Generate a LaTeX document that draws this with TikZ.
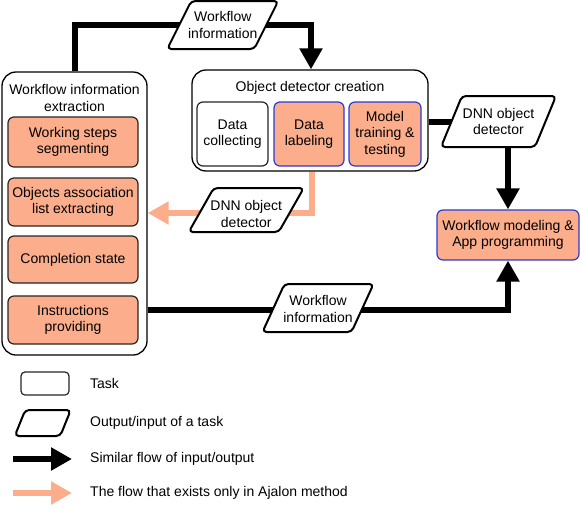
\documentclass[tikz,border=0pt]{standalone}
\usepackage{fontspec}
\setmainfont{Liberation Sans}
\usetikzlibrary{arrows.meta,backgrounds}
\definecolor{salmon}{RGB}{252,174,140}
\definecolor{boxblue}{RGB}{40,60,215}
\newcommand{\drawio}[5]{\draw[ioshape] ({#1-#3/2-#5/2},{#2+#4/2}) -- ({#1+#3/2-#5/2},{#2+#4/2}) -- ({#1+#3/2+#5/2},{#2-#4/2}) -- ({#1-#3/2+#5/2},{#2-#4/2}) -- cycle;}
\tikzset{
  txt/.style={font=\fontsize{14}{16.5}\selectfont, align=center, inner sep=0pt},
  outerbox/.style={draw=black, line width=1.3pt, rounded corners=14pt, fill=white},
  taskbox/.style={txt, draw=black!85, line width=1.2pt, rounded corners=6pt, fill=salmon},
  bluebox/.style={taskbox, draw=boxblue},
  whitebox/.style={taskbox, fill=white},
  ioshape/.style={draw=black, line width=2pt, rounded corners=4pt, fill=white, line join=round},
  flowline/.style={draw=black, line width=6pt},
  flow/.style={flowline, -{Triangle[width=22pt,length=21pt]}},
  sflow/.style={draw=salmon, line width=6.5pt, -{Triangle[width=22pt,length=21pt]}},
  legtext/.style={txt, anchor=west}
}
\begin{document}
\begin{tikzpicture}[x=1pt,y=-1pt]
\useasboundingbox (0,0) rectangle (581,509);

% Workflow information extraction
\node[outerbox, minimum width=145pt, minimum height=283pt] (wie) at (74.5,213.5) {};
\node[txt] (wiet) at (74.5,98) {Workflow information\\extraction};
\node[taskbox, minimum width=130pt, minimum height=50pt] (ws) at (73,142) {Working steps\\segmenting};
\node[taskbox, minimum width=130pt, minimum height=48pt] (oa) at (73,202) {Objects association\\list extracting};
\node[taskbox, minimum width=130pt, minimum height=47pt] (cs) at (73,259.5) {Completion state};
\node[taskbox, minimum width=130pt, minimum height=48pt] (ip) at (73,320) {Instructions\\providing};

% Object detector creation
\node[outerbox, minimum width=236pt, minimum height=101pt] (odc) at (310,120.5) {};
\node[txt] (odct) at (310,88) {Object detector creation};
\node[whitebox, minimum width=71pt, minimum height=64pt] (dc) at (232.5,134) {Data\\collecting};
\node[bluebox, minimum width=70pt, minimum height=64pt] (dl) at (309,134) {Data\\labeling};
\node[bluebox, minimum width=72pt, minimum height=64pt] (mt) at (385,134) {Model\\training \&\\testing};

% Workflow modeling
\node[bluebox, minimum width=142pt, minimum height=50pt] (wm) at (508,235) {Workflow modeling \&\\App programming};

% Input/output shapes
\drawio{222.75}{25}{87}{48}{24}
\node[txt] (p1) at (222.75,25) {Workflow\\information};
\drawio{498.5}{121.5}{94}{51}{21}
\node[txt] (p2) at (498.5,121.5) {DNN object\\detector};
\drawio{318}{308}{89}{48}{22}
\node[txt] (p3) at (318,309) {Workflow\\information};
\drawio{246.25}{210}{90}{44}{25}
\node[txt] (p4) at (246.25,214) {DNN object\\detector};

% Connectors
\begin{scope}[on background layer]
\draw[flow] (wie.north) |- (p1.center) -| ([xshift=1pt]odc.north);
\draw[flowline] (odc.east |- p2.center) -- (p2.center);
\draw[flow] (p2.center -| wm.north) -- (wm.north);
\draw[flow] (wie.east |- 0,310) -- (p3.center |- 0,310) -| (wm.south);
\draw[sflow] ([xshift=2pt]odc.south) |- (wie.east |- 0,213);
\end{scope}

% Legend
\node[whitebox, rounded corners=4pt, minimum width=48pt, minimum height=23pt] (lt) at (45,383.5) {};
\node[legtext] (ltt) at (90,383) {Task};
\drawio{42.75}{423}{45.5}{26}{10.5}
\coordinate (lio) at (42.75,423);
\node[legtext] (liot) at (90,423) {Output/input of a task};
\coordinate (la1) at (13,459);
\coordinate (la2) at (72,459);
\draw[flow] (la1) -- (la2);
\node[legtext] (lat) at (90,459) {Similar flow of input/output};
\coordinate (lb1) at (13,493);
\coordinate (lb2) at (72,493);
\draw[sflow] (lb1) -- (lb2);
\node[legtext] (lbt) at (90,493) {The flow that exists only in Ajalon method};
\end{tikzpicture}
\end{document}
